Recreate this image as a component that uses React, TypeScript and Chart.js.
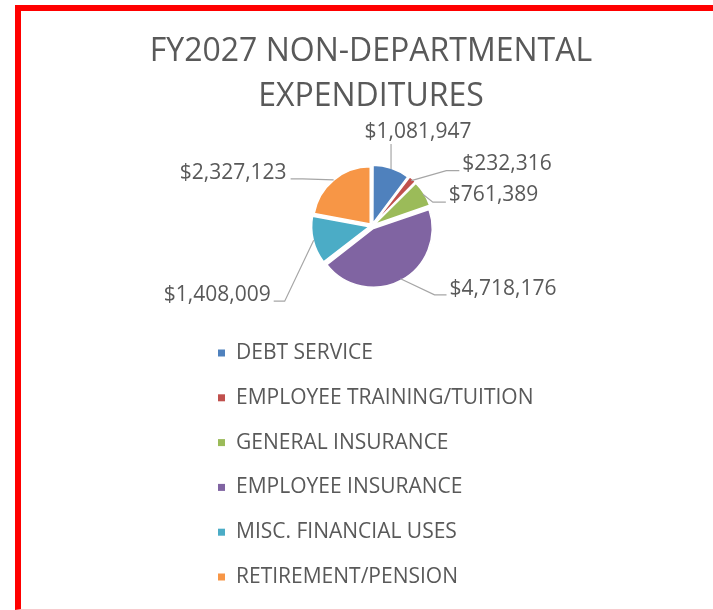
import React, { useEffect, useRef } from "react";
import { Chart, registerables } from "chart.js";

Chart.register(...registerables);

const TITLE_LINES = ["FY2027 NON-DEPARTMENTAL", "EXPENDITURES"];
const CATEGORIES = [
  "DEBT SERVICE",
  "EMPLOYEE TRAINING/TUITION",
  "GENERAL INSURANCE",
  "EMPLOYEE INSURANCE",
  "MISC. FINANCIAL USES",
  "RETIREMENT/PENSION",
];
const VALUES = [1081947, 232316, 761389, 4718176, 1408009, 2327123];
const COLORS = ["#4F81BD", "#C0504D", "#9BBB59", "#8064A2", "#4BACC6", "#F79646"];

// leader-line layout per label, relative to the slice's outer edge anchor
const LABEL_LAYOUT = [
  { pts: [[0, 0], [0, -25]], tx: 27, ty: -37, align: "center" },
  { pts: [[0, 0], [35, -10], [48, -10]], tx: 51, ty: -17, align: "left" },
  { pts: [[0, 0], [10, 8], [23, 8]], tx: 26, ty: 1, align: "left" },
  { pts: [[0, 0], [34, 16], [46, 16]], tx: 49, ty: 10, align: "left" },
  { pts: [[0, 0], [-29, 61], [-40, 61]], tx: -43, ty: 55, align: "right" },
  { pts: [[0, 0], [-31, -1], [-43, -1]], tx: -47, ty: -7, align: "right" },
];

const FONT = '"Open Sans", sans-serif';
const TEXT = "#595959";

const fmt = (v: number) => "$" + v.toLocaleString("en-US");

const overlayPlugin = {
  id: "overlay",
  afterDraw(chart: any) {
    const ctx = chart.ctx as CanvasRenderingContext2D;
    ctx.save();
    // title
    ctx.fillStyle = TEXT;
    ctx.font = `32px ${FONT}`;
    ctx.textAlign = "center";
    ctx.textBaseline = "middle";
    TITLE_LINES.forEach((t, i) => ctx.fillText(t, 371, 52 + i * 45));

    // data labels with leader lines
    const meta = chart.getDatasetMeta(0);
    ctx.font = `21px ${FONT}`;
    meta.data.forEach((arc: any, i: number) => {
      const p = arc.getProps(["x", "y", "startAngle", "endAngle", "outerRadius"], true);
      const mid = (p.startAngle + p.endAngle) / 2;
      const ax = p.x + Math.cos(mid) * (p.outerRadius + 3);
      const ay = p.y + Math.sin(mid) * (p.outerRadius + 3);
      const L = LABEL_LAYOUT[i];
      ctx.strokeStyle = "#A6A6A6";
      ctx.lineWidth = 1.2;
      ctx.beginPath();
      L.pts.forEach(([dx, dy], k) => {
        if (k === 0) ctx.moveTo(ax + dx, ay + dy);
        else ctx.lineTo(ax + dx, ay + dy);
      });
      ctx.stroke();
      ctx.fillStyle = TEXT;
      ctx.textAlign = L.align as CanvasTextAlign;
      ctx.textBaseline = "middle";
      ctx.fillText(fmt(VALUES[i]), ax + L.tx, ay + L.ty);
    });

    // legend
    ctx.font = `21px ${FONT}`;
    ctx.textAlign = "left";
    ctx.textBaseline = "middle";
    CATEGORIES.forEach((c, i) => {
      const y = 353 + i * 44.8;
      ctx.fillStyle = COLORS[i];
      ctx.fillRect(218, y - 3.5, 7, 7);
      ctx.fillStyle = TEXT;
      ctx.fillText(c, 236, y);
    });
    ctx.restore();
  },
};

export default function App() {
  const ref = useRef<HTMLCanvasElement>(null);
  useEffect(() => {
    if (!ref.current) return;
    const chart = new Chart(ref.current, {
      type: "pie",
      data: {
        labels: CATEGORIES,
        datasets: [
          {
            data: VALUES,
            backgroundColor: COLORS,
            borderColor: "#FFFFFF",
            borderWidth: 1.5,
            offset: 11,
            radius: 57,
          } as any,
        ],
      },
      options: {
        responsive: false,
        animation: false,
        devicePixelRatio: 1,
        layout: { padding: { left: 231, right: 200, top: 126, bottom: 284 } },
        plugins: {
          legend: { display: false },
          title: { display: false },
          tooltip: { enabled: false },
        },
      },
      plugins: [overlayPlugin],
    });
    return () => chart.destroy();
  }, []);

  return (
    <div
      style={{
        position: "fixed",
        left: 0,
        top: 0,
        width: 713,
        height: 610,
        background: "#fff",
        overflow: "hidden",
      }}
    >
      <div
        style={{
          position: "absolute",
          left: 15,
          top: 5,
          width: 720,
          height: 598,
          borderLeft: "6px solid #f00",
          borderTop: "6px solid #f00",
          borderBottom: "1px solid #f8c9cd",
        }}
      />
      <canvas
        ref={ref}
        width={713}
        height={610}
        style={{ position: "absolute", left: 0, top: 0, width: 713, height: 610 }}
      />
    </div>
  );
}
